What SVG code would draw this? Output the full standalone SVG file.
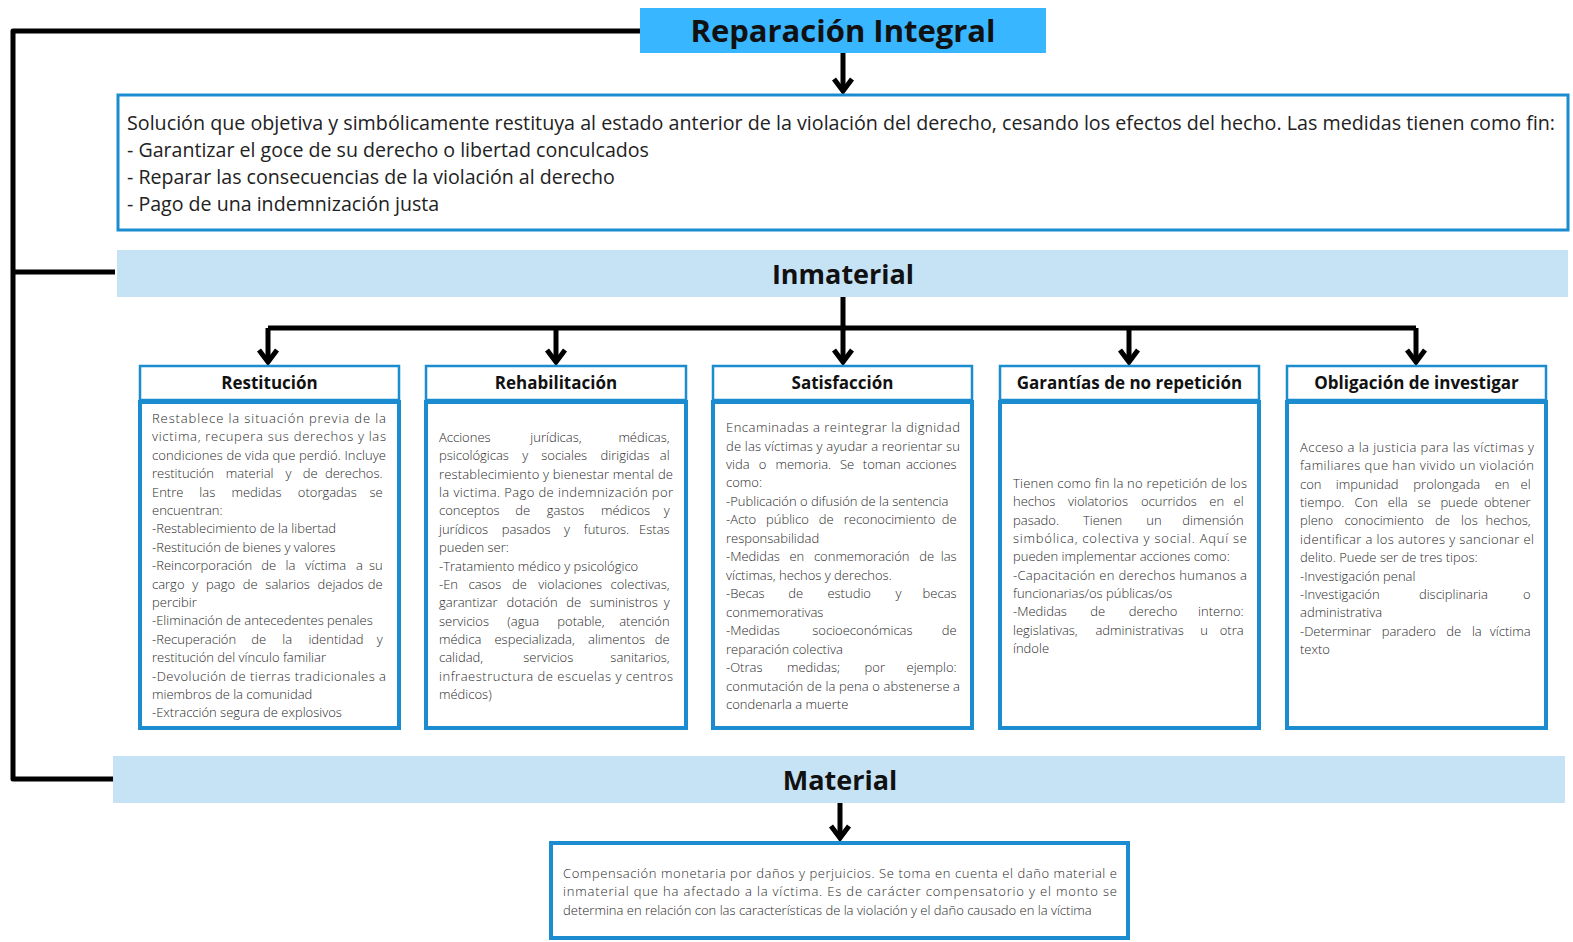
<svg xmlns="http://www.w3.org/2000/svg" width="1573" height="942" viewBox="0 0 1573 942">
<defs>
<style>
.bx{fill:#fff;stroke:#1a8ccf}
.hd{stroke-width:2.5}
.bd{stroke-width:4}
.t{font-family:"Open Sans","DejaVu Sans",sans-serif;fill:#2a2a2a;font-size:13px;font-weight:300}
.h{font-family:"Open Sans","DejaVu Sans",sans-serif;font-weight:700;font-size:17px;fill:#111;text-anchor:middle}
.big{font-family:"Open Sans","DejaVu Sans",sans-serif;font-weight:700;fill:#111;text-anchor:middle}
.d{font-family:"Open Sans","DejaVu Sans",sans-serif;font-size:19.6px;fill:#222}
.m{text-anchor:middle}
.e{text-anchor:end}
.ln{fill:none;stroke:#000;stroke-width:5;stroke-linejoin:round}
</style>
<marker id="chev" markerUnits="userSpaceOnUse" viewBox="-16 -14 20 28" markerWidth="20" markerHeight="28" refX="0" refY="0" orient="auto">
<path d="M-12,-9 L0,0 L-12,9" fill="none" stroke="#000" stroke-width="5" stroke-linejoin="miter"/>
</marker>
</defs>
<rect width="1573" height="942" fill="#fff"/>

<g id="connectors">
<path class="ln" d="M640,31 H13 V779 H113 M13,272 H115"/>
<line class="ln" x1="843" y1="53" x2="843" y2="91" stroke-width="4" marker-end="url(#chev)"/>
<line class="ln" x1="843" y1="297" x2="843" y2="362" marker-end="url(#chev)"/>
<line class="ln" x1="268" y1="328" x2="1416" y2="328" stroke-width="6"/>
<line class="ln" x1="268" y1="328" x2="268" y2="362" marker-end="url(#chev)"/>
<line class="ln" x1="556" y1="328" x2="556" y2="362" marker-end="url(#chev)"/>
<line class="ln" x1="1129" y1="328" x2="1129" y2="362" marker-end="url(#chev)"/>
<line class="ln" x1="1416" y1="328" x2="1416" y2="362" marker-end="url(#chev)"/>
<line class="ln" x1="840" y1="803" x2="840" y2="838" marker-end="url(#chev)"/>
</g>

<g id="title">
<rect x="640" y="8" width="406" height="45" fill="#38b6ff"/>
<text class="big" x="843" y="42" font-size="31" font-weight="800">Reparación Integral</text>
</g>

<g id="descripcion">
<rect class="bx" x="118" y="95" width="1450" height="135" stroke-width="3"/>
<text class="d" x="127" y="130" textLength="1428" lengthAdjust="spacingAndGlyphs">Solución que objetiva y simbólicamente restituya al estado anterior de la violación del derecho, cesando los efectos del hecho. Las medidas tienen como fin:</text>
<text class="d" x="127" y="157">- Garantizar el goce de su derecho o libertad conculcados</text>
<text class="d" x="127" y="184">- Reparar las consecuencias de la violación al derecho</text>
<text class="d" x="127" y="211">- Pago de una indemnización justa</text>
</g>

<g id="inmaterial">
<rect x="117" y="250" width="1451" height="47" fill="#c5e3f4"/>
<text class="big" x="843" y="284" font-size="27">Inmaterial</text>
</g>

<g id="restitucion">
<rect class="bx hd" x="140" y="366" width="259" height="34"/>
<text class="h" x="269.5" y="389">Restitución</text>
<rect class="bx bd" x="140" y="402" width="259" height="326"/>
<text class="t">
<tspan x="152" y="423" textLength="234" lengthAdjust="spacing">Restablece la situación previa de la</tspan>
<tspan x="152" y="441.4" textLength="234" lengthAdjust="spacing">victima, recupera sus derechos y las</tspan>
<tspan x="152" y="459.8" textLength="234" lengthAdjust="spacing">condiciones de vida que perdió. Incluye</tspan>
<tspan x="152" y="478.2">restitución</tspan><tspan class="m" x="249.7" y="478.2">material</tspan><tspan class="m" x="288.4" y="478.2">y</tspan><tspan class="m" x="310.1" y="478.2">de</tspan><tspan class="e" x="386" y="478.2">derechos.</tspan>
<tspan x="152" y="496.6">Entre</tspan><tspan class="m" x="207.3" y="496.6">las</tspan><tspan class="m" x="256.5" y="496.6">medidas</tspan><tspan class="m" x="327.3" y="496.6">otorgadas</tspan><tspan class="e" x="386" y="496.6">se</tspan>
<tspan x="152" y="515">encuentran:</tspan>
<tspan x="152" y="533.4">-Restablecimiento de la libertad</tspan>
<tspan x="152" y="551.8">-Restitución de bienes y valores</tspan>
<tspan x="152" y="570.2">-Reincorporación</tspan><tspan class="m" x="268.6" y="570.2">de</tspan><tspan class="m" x="290.4" y="570.2">la</tspan><tspan class="m" x="325.7" y="570.2">víctima</tspan><tspan class="m" x="359.4" y="570.2">a</tspan><tspan class="e" x="386" y="570.2">su</tspan>
<tspan x="152" y="588.6">cargo</tspan><tspan class="m" x="195.3" y="588.6">y</tspan><tspan class="m" x="220.6" y="588.6">pago</tspan><tspan class="m" x="250.1" y="588.6">de</tspan><tspan class="m" x="287.6" y="588.6">salarios</tspan><tspan class="m" x="340.6" y="588.6">dejados</tspan><tspan class="e" x="386" y="588.6">de</tspan>
<tspan x="152" y="607">percibir</tspan>
<tspan x="152" y="625.4">-Eliminación de antecedentes penales</tspan>
<tspan x="152" y="643.8">-Recuperación</tspan><tspan class="m" x="258.8" y="643.8">de</tspan><tspan class="m" x="287.2" y="643.8">la</tspan><tspan class="m" x="336" y="643.8">identidad</tspan><tspan class="e" x="386" y="643.8">y</tspan>
<tspan x="152" y="662.2">restitución del vínculo familiar</tspan>
<tspan x="152" y="680.6" textLength="234" lengthAdjust="spacing">-Devolución de tierras tradicionales a</tspan>
<tspan x="152" y="699">miembros de la comunidad</tspan>
<tspan x="152" y="717.4">-Extracción segura de explosivos</tspan>
</text>
</g>

<g id="rehabilitacion">
<rect class="bx hd" x="426" y="366" width="260" height="34"/>
<text class="h" x="556" y="389">Rehabilitación</text>
<rect class="bx bd" x="426" y="402" width="260" height="326"/>
<text class="t">
<tspan x="439" y="442">Acciones</tspan><tspan class="m" x="555.9" y="442">jurídicas,</tspan><tspan class="e" x="673" y="442">médicas,</tspan>
<tspan x="439" y="460.4">psicológicas</tspan><tspan class="m" x="525.2" y="460.4">y</tspan><tspan class="m" x="564.2" y="460.4">sociales</tspan><tspan class="m" x="625" y="460.4">dirigidas</tspan><tspan class="e" x="673" y="460.4">al</tspan>
<tspan x="439" y="478.7" textLength="234" lengthAdjust="spacing">restablecimiento y bienestar mental de</tspan>
<tspan x="439" y="497.1" textLength="234" lengthAdjust="spacing">la victima. Pago de indemnización por</tspan>
<tspan x="439" y="515.4">conceptos</tspan><tspan class="m" x="522.7" y="515.4">de</tspan><tspan class="m" x="565.5" y="515.4">gastos</tspan><tspan class="m" x="625.5" y="515.4">médicos</tspan><tspan class="e" x="673" y="515.4">y</tspan>
<tspan x="439" y="533.8">jurídicos</tspan><tspan class="m" x="526.2" y="533.8">pasados</tspan><tspan class="m" x="567" y="533.8">y</tspan><tspan class="m" x="606.5" y="533.8">futuros.</tspan><tspan class="e" x="673" y="533.8">Estas</tspan>
<tspan x="439" y="552.2">pueden ser:</tspan>
<tspan x="439" y="570.5">-Tratamiento médico y psicológico</tspan>
<tspan x="439" y="588.9">-En</tspan><tspan class="m" x="484.9" y="588.9">casos</tspan><tspan class="m" x="519.5" y="588.9">de</tspan><tspan class="m" x="570.2" y="588.9">violaciones</tspan><tspan class="e" x="673" y="588.9">colectivas,</tspan>
<tspan x="439" y="607.2">garantizar</tspan><tspan class="m" x="532.1" y="607.2">dotación</tspan><tspan class="m" x="573.6" y="607.2">de</tspan><tspan class="m" x="623.8" y="607.2">suministros</tspan><tspan class="e" x="673" y="607.2">y</tspan>
<tspan x="439" y="625.6">servicios</tspan><tspan class="m" x="523.2" y="625.6">(agua</tspan><tspan class="m" x="580.9" y="625.6">potable,</tspan><tspan class="e" x="673" y="625.6">atención</tspan>
<tspan x="439" y="644">médica</tspan><tspan class="m" x="534.6" y="644">especializada,</tspan><tspan class="m" x="616.6" y="644">alimentos</tspan><tspan class="e" x="673" y="644">de</tspan>
<tspan x="439" y="662.3">calidad,</tspan><tspan class="m" x="548.3" y="662.3">servicios</tspan><tspan class="e" x="673" y="662.3">sanitarios,</tspan>
<tspan x="439" y="680.7" textLength="234" lengthAdjust="spacing">infraestructura de escuelas y centros</tspan>
<tspan x="439" y="699">médicos)</tspan>
</text>
</g>

<g id="satisfaccion">
<rect class="bx hd" x="713" y="366" width="259" height="34"/>
<text class="h" x="842.5" y="389">Satisfacción</text>
<rect class="bx bd" x="713" y="402" width="259" height="326"/>
<text class="t">
<tspan x="726" y="432" textLength="234" lengthAdjust="spacing">Encaminadas a reintegrar la dignidad</tspan>
<tspan x="726" y="450.5" textLength="234" lengthAdjust="spacing">de las víctimas y ayudar a reorientar su</tspan>
<tspan x="726" y="468.9">vida</tspan><tspan class="m" x="762.6" y="468.9">o</tspan><tspan class="m" x="803.3" y="468.9">memoria.</tspan><tspan class="m" x="847.1" y="468.9">Se</tspan><tspan class="m" x="881.8" y="468.9">toman</tspan><tspan class="e" x="960" y="468.9">acciones</tspan>
<tspan x="726" y="487.4">como:</tspan>
<tspan x="726" y="505.9">-Publicación o difusión de la sentencia</tspan>
<tspan x="726" y="524.4">-Acto</tspan><tspan class="m" x="787.4" y="524.4">público</tspan><tspan class="m" x="826.3" y="524.4">de</tspan><tspan class="m" x="889.5" y="524.4">reconocimiento</tspan><tspan class="e" x="960" y="524.4">de</tspan>
<tspan x="726" y="542.8">responsabilidad</tspan>
<tspan x="726" y="561.3">-Medidas</tspan><tspan class="m" x="796.8" y="561.3">en</tspan><tspan class="m" x="861.7" y="561.3">conmemoración</tspan><tspan class="m" x="926.7" y="561.3">de</tspan><tspan class="e" x="960" y="561.3">las</tspan>
<tspan x="726" y="579.8">víctimas, hechos y derechos.</tspan>
<tspan x="726" y="598.2">-Becas</tspan><tspan class="m" x="795.6" y="598.2">de</tspan><tspan class="m" x="849.2" y="598.2">estudio</tspan><tspan class="m" x="898.6" y="598.2">y</tspan><tspan class="e" x="960" y="598.2">becas</tspan>
<tspan x="726" y="616.7">conmemorativas</tspan>
<tspan x="726" y="635.2">-Medidas</tspan><tspan class="m" x="862.4" y="635.2">socioeconómicas</tspan><tspan class="e" x="960" y="635.2">de</tspan>
<tspan x="726" y="653.6">reparación colectiva</tspan>
<tspan x="726" y="672.1">-Otras</tspan><tspan class="m" x="813.5" y="672.1">medidas;</tspan><tspan class="m" x="874.8" y="672.1">por</tspan><tspan class="e" x="960" y="672.1">ejemplo:</tspan>
<tspan x="726" y="690.6" textLength="234" lengthAdjust="spacing">conmutación de la pena o abstenerse a</tspan>
<tspan x="726" y="709">condenarla a muerte</tspan>
</text>
</g>

<g id="garantias">
<rect class="bx hd" x="1000" y="366" width="259" height="34"/>
<text class="h" x="1129.5" y="389">Garantías de no repetición</text>
<rect class="bx bd" x="1000" y="402" width="259" height="326"/>
<text class="t">
<tspan x="1013" y="488" textLength="234" lengthAdjust="spacing">Tienen como fin la no repetición de los</tspan>
<tspan x="1013" y="506.3">hechos</tspan><tspan class="m" x="1098" y="506.3">violatorios</tspan><tspan class="m" x="1168.9" y="506.3">ocurridos</tspan><tspan class="m" x="1216.7" y="506.3">en</tspan><tspan class="e" x="1247" y="506.3">el</tspan>
<tspan x="1013" y="524.7">pasado.</tspan><tspan class="m" x="1102.6" y="524.7">Tienen</tspan><tspan class="m" x="1153.9" y="524.7">un</tspan><tspan class="e" x="1247" y="524.7">dimensión</tspan>
<tspan x="1013" y="543" textLength="234" lengthAdjust="spacing">simbólica, colectiva y social. Aquí se</tspan>
<tspan x="1013" y="561.3">pueden implementar acciones como:</tspan>
<tspan x="1013" y="579.7" textLength="234" lengthAdjust="spacing">-Capacitación en derechos humanos a</tspan>
<tspan x="1013" y="598">funcionarias/os públicas/os</tspan>
<tspan x="1013" y="616.3">-Medidas</tspan><tspan class="m" x="1097.8" y="616.3">de</tspan><tspan class="m" x="1153.1" y="616.3">derecho</tspan><tspan class="e" x="1247" y="616.3">interno:</tspan>
<tspan x="1013" y="634.6">legislativas,</tspan><tspan class="m" x="1139.6" y="634.6">administrativas</tspan><tspan class="m" x="1204" y="634.6">u</tspan><tspan class="e" x="1247" y="634.6">otra</tspan>
<tspan x="1013" y="653">índole</tspan>
</text>
</g>

<g id="obligacion">
<rect class="bx hd" x="1287" y="366" width="259" height="34"/>
<text class="h" x="1416.5" y="389">Obligación de investigar</text>
<rect class="bx bd" x="1287" y="402" width="259" height="326"/>
<text class="t">
<tspan x="1300" y="452" textLength="234" lengthAdjust="spacing">Acceso a la justicia para las víctimas y</tspan>
<tspan x="1300" y="470.4" textLength="234" lengthAdjust="spacing">familiares que han vivido un violación</tspan>
<tspan x="1300" y="488.7">con</tspan><tspan class="m" x="1367.2" y="488.7">impunidad</tspan><tspan class="m" x="1446.8" y="488.7">prolongada</tspan><tspan class="m" x="1502.1" y="488.7">en</tspan><tspan class="e" x="1534" y="488.7">el</tspan>
<tspan x="1300" y="507.1">tiempo.</tspan><tspan class="m" x="1366.2" y="507.1">Con</tspan><tspan class="m" x="1397.7" y="507.1">ella</tspan><tspan class="m" x="1424.2" y="507.1">se</tspan><tspan class="m" x="1459.1" y="507.1">puede</tspan><tspan class="e" x="1534" y="507.1">obtener</tspan>
<tspan x="1300" y="525.4">pleno</tspan><tspan class="m" x="1384.1" y="525.4">conocimiento</tspan><tspan class="m" x="1442.4" y="525.4">de</tspan><tspan class="m" x="1469.4" y="525.4">los</tspan><tspan class="e" x="1534" y="525.4">hechos,</tspan>
<tspan x="1300" y="543.8" textLength="234" lengthAdjust="spacing">identificar a los autores y sancionar el</tspan>
<tspan x="1300" y="562.2">delito. Puede ser de tres tipos:</tspan>
<tspan x="1300" y="580.5">-Investigación penal</tspan>
<tspan x="1300" y="598.9">-Investigación</tspan><tspan class="m" x="1453.4" y="598.9">disciplinaria</tspan><tspan class="e" x="1534" y="598.9">o</tspan>
<tspan x="1300" y="617.2">administrativa</tspan>
<tspan x="1300" y="635.6">-Determinar</tspan><tspan class="m" x="1408.8" y="635.6">paradero</tspan><tspan class="m" x="1453.8" y="635.6">de</tspan><tspan class="m" x="1476.8" y="635.6">la</tspan><tspan class="e" x="1534" y="635.6">víctima</tspan>
<tspan x="1300" y="654">texto</tspan>
</text>
</g>

<g id="material">
<rect x="113" y="756" width="1452" height="47" fill="#c5e3f4"/>
<text class="big" x="840" y="790" font-size="27">Material</text>
</g>

<g id="compensacion">
<rect class="bx bd" x="551" y="843" width="577" height="95"/>
<text class="t">
<tspan x="563" y="878" textLength="554" lengthAdjust="spacing">Compensación monetaria por daños y perjuicios. Se toma en cuenta el daño material e</tspan>
<tspan x="563" y="896.3" textLength="554" lengthAdjust="spacing">inmaterial que ha afectado a la víctima. Es de carácter compensatorio y el monto se</tspan>
<tspan x="563" y="914.6">determina en relación con las características de la violación y el daño causado en la víctima</tspan>
</text>
</g>
</svg>
